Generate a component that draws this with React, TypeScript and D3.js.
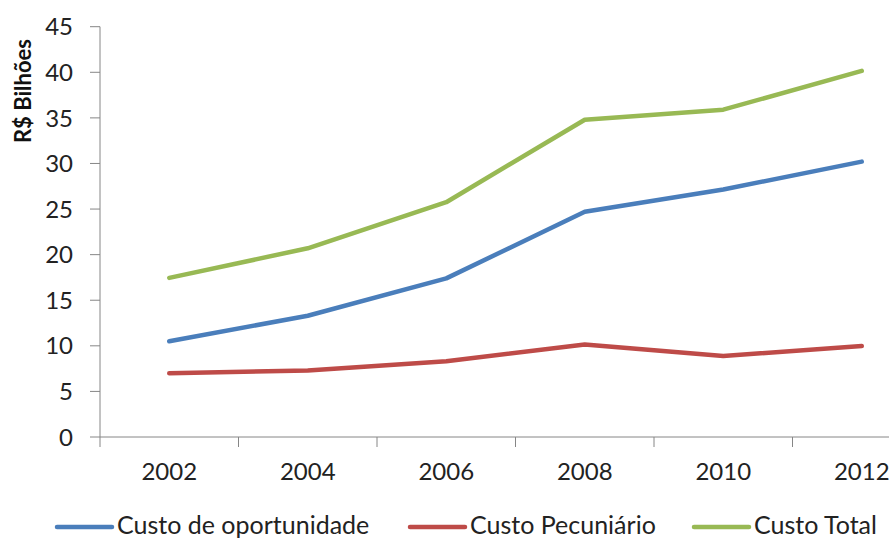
import React from "react";
import * as d3 from "d3";

const years = ["2002", "2004", "2006", "2008", "2010", "2012"];
const oportunidade = [10.5, 13.3, 17.4, 24.7, 27.15, 30.2];
const pecuniario = [7.0, 7.3, 8.3, 10.15, 8.88, 9.98];
const total = [17.45, 20.7, 25.75, 34.8, 35.9, 40.15];
const yTicks = [0, 5, 10, 15, 20, 25, 30, 35, 40, 45];

const series = [
    { name: "Custo de oportunidade", values: oportunidade, color: "#4A7EBB", lx: 57 },
    { name: "Custo Pecuniário", values: pecuniario, color: "#BE4B48", lx: 410 },
    { name: "Custo Total", values: total, color: "#98B954", lx: 694 },
];

const width = 889;
const height = 538;
const font = "Lato, 'Open Sans', sans-serif";
const axisColor = "#868686";

const App = () => {
    const x = d3.scaleBand().domain(years).range([100, 931]).padding(0);
    const y = d3.scaleLinear().domain([0, 45]).range([437, 26.7]);

    const line = d3
        .line<number>()
        .x((d, i) => x(years[i]) + x.bandwidth() / 2)
        .y(d => y(d));

    const edges = years.map(d => x(d)).concat([x.range()[1]]);

    return (
        <svg width={width} height={height} style={{ position: "absolute", left: 0, top: 0 }}>
            <rect width={width} height={height} fill="white" />

            {/* y axis */}
            <line x1={100} x2={100} y1={y(45)} y2={y(0)} stroke={axisColor} strokeWidth={1} />
            {yTicks.map(t => (
                <g key={t}>
                    <line x1={90} x2={100} y1={y(t)} y2={y(t)} stroke={axisColor} />
                    <text x={73} y={y(t)} dy="0.36em" textAnchor="end" fontFamily={font} fontSize={24} fill="#222">
                        {t}
                    </text>
                </g>
            ))}
            <text
                transform={`translate(31 ${91}) rotate(-90)`}
                textAnchor="middle"
                fontFamily={font}
                fontWeight="bold"
                fontSize={22}
                fill="#111"
            >
                R$ Bilhões
            </text>

            {/* x axis */}
            <line x1={100} x2={width} y1={y(0)} y2={y(0)} stroke={axisColor} />
            {edges.map((e, i) => (
                <line key={i} x1={e} x2={e} y1={y(0)} y2={y(0) + 10} stroke={axisColor} />
            ))}
            {years.map(d => (
                <text key={d} x={x(d) + x.bandwidth() / 2} y={480} textAnchor="middle" fontFamily={font} fontSize={24} fill="#222">
                    {d}
                </text>
            ))}

            {/* lines */}
            {series.map(s => (
                <path key={s.name} d={line(s.values)} fill="none" stroke={s.color} strokeWidth={4.5} strokeLinejoin="round" strokeLinecap="round" />
            ))}

            {/* legend */}
            {series.map(s => (
                <g key={s.name}>
                    <line x1={s.lx} x2={s.lx + 55} y1={527} y2={527} stroke={s.color} strokeWidth={4.5} strokeLinecap="round" />
                    <text x={s.lx + 60} y={534} fontFamily={font} fontSize={25} fill="#222">
                        {s.name}
                    </text>
                </g>
            ))}
        </svg>
    );
};

export default App;
